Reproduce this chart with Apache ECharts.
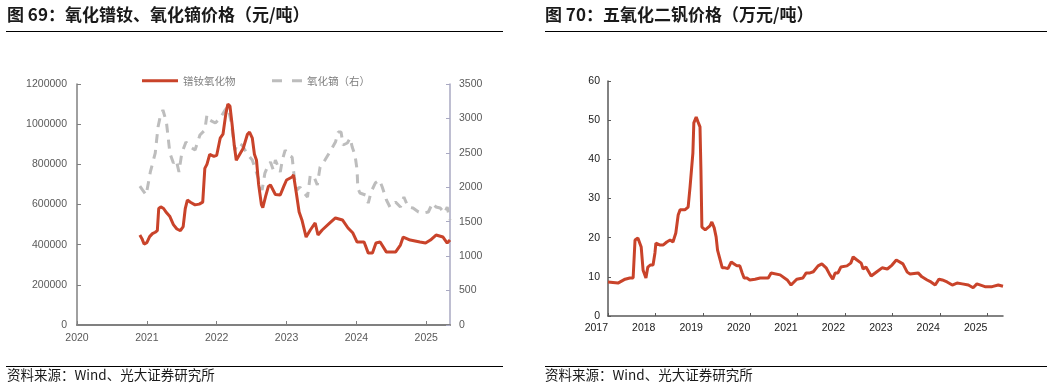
<!DOCTYPE html>
<html><head><meta charset="utf-8">
<script src="https://cdn.jsdelivr.net/npm/echarts@6/dist/echarts.min.js"></script>
<style>html,body{margin:0;padding:0;background:#fff;}#c{width:1055px;height:387px;}</style>
</head><body><div id="c"></div>
<script>
// ---- text ----
const titleLeft = '图 69：氧化镨钕、氧化镝价格（元/吨）';
const titleRight = '图 70：五氧化二钒价格（万元/吨）';
const sourceText = '资料来源：Wind、光大证券研究所';
const nameNd = '镨钕氧化物';
const nameDy = '氧化镝（右）';
const nameV = '五氧化二钒';

// ---- tick labels ----
const yearsLeft = [2020, 2021, 2022, 2023, 2024, 2025];
const yearsRight = [2017, 2018, 2019, 2020, 2021, 2022, 2023, 2024, 2025];

// ---- 镨钕氧化物 (元/吨), dates as decimal years ----
const ndDates = [2020.90,2020.93,2020.96,2021.00,2021.04,2021.08,2021.12,2021.15,2021.17,2021.20,2021.24,2021.28,2021.33,2021.38,2021.43,2021.48,2021.52,2021.55,2021.58,2021.63,2021.69,2021.75,2021.80,2021.83,2021.86,2021.90,2021.96,2022.00,2022.05,2022.09,2022.13,2022.16,2022.19,2022.22,2022.25,2022.28,2022.33,2022.38,2022.44,2022.47,2022.51,2022.54,2022.57,2022.60,2022.64,2022.66,2022.70,2022.74,2022.77,2022.84,2022.91,2022.96,2023.00,2023.08,2023.10,2023.14,2023.18,2023.22,2023.28,2023.34,2023.41,2023.45,2023.51,2023.62,2023.70,2023.80,2023.88,2023.95,2024.01,2024.11,2024.17,2024.23,2024.28,2024.34,2024.43,2024.56,2024.63,2024.67,2024.77,2024.91,2024.99,2025.06,2025.14,2025.24,2025.30,2025.34];
const ndValues = [448000,430000,403000,410000,440000,455000,462000,470000,580000,588000,580000,560000,540000,500000,478000,470000,490000,580000,622000,610000,598000,602000,612000,780000,800000,850000,840000,845000,930000,950000,1050000,1100000,1090000,1000000,900000,820000,850000,880000,950000,960000,930000,850000,820000,700000,600000,585000,640000,690000,697000,650000,647000,690000,722000,737000,747000,657000,563000,523000,438000,473000,508000,448000,473000,508000,533000,523000,483000,458000,413000,413000,358000,358000,408000,413000,363000,363000,398000,438000,423000,413000,408000,423000,448000,438000,408000,423000];

// ---- 氧化镝 (right axis) ----
const dyDates = [2020.90,2020.94,2020.99,2021.05,2021.12,2021.16,2021.19,2021.23,2021.28,2021.33,2021.38,2021.42,2021.46,2021.50,2021.56,2021.62,2021.69,2021.76,2021.83,2021.86,2021.90,2021.98,2022.05,2022.12,2022.16,2022.21,2022.26,2022.31,2022.36,2022.45,2022.51,2022.59,2022.65,2022.69,2022.74,2022.77,2022.81,2022.84,2022.91,2022.94,2022.98,2023.02,2023.08,2023.11,2023.15,2023.19,2023.24,2023.30,2023.34,2023.40,2023.44,2023.48,2023.55,2023.62,2023.70,2023.74,2023.78,2023.81,2023.87,2023.91,2023.94,2023.98,2024.01,2024.02,2024.05,2024.13,2024.17,2024.21,2024.27,2024.33,2024.37,2024.43,2024.48,2024.56,2024.63,2024.68,2024.74,2024.81,2024.89,2024.96,2025.03,2025.09,2025.14,2025.20,2025.26,2025.30,2025.34];
const dyValues = [2018,1960,1888,2222,2497,2875,3020,3122,2948,2497,2352,2396,2222,2497,2657,2585,2541,2759,2831,3049,2977,2933,3006,3122,3166,2933,2541,2643,2614,2468,2396,2149,1960,2207,2323,2367,2251,2396,2222,2396,2541,2468,2439,2149,1960,2004,1931,1859,2178,2134,2033,2294,2396,2512,2657,2802,2802,2614,2643,2715,2585,2468,2251,1989,1917,1888,1771,1931,2062,2105,2004,1815,1713,1786,1713,1859,1713,1699,1641,1626,1641,1771,1713,1699,1626,1713,1525];

// ---- 五氧化二钒 (万元/吨) ----
const vDates = [2017.00,2017.21,2017.25,2017.36,2017.46,2017.53,2017.57,2017.63,2017.70,2017.74,2017.80,2017.84,2017.89,2017.95,2017.99,2018.01,2018.10,2018.16,2018.24,2018.31,2018.37,2018.43,2018.48,2018.52,2018.62,2018.69,2018.73,2018.79,2018.81,2018.86,2018.90,2018.94,2018.96,2018.98,2019.05,2019.15,2019.19,2019.24,2019.28,2019.31,2019.34,2019.41,2019.47,2019.53,2019.60,2019.66,2019.72,2019.78,2019.83,2019.87,2019.93,2019.99,2020.10,2020.21,2020.38,2020.44,2020.63,2020.78,2020.86,2020.98,2021.11,2021.18,2021.26,2021.33,2021.43,2021.51,2021.60,2021.68,2021.74,2021.79,2021.85,2021.91,2022.04,2022.12,2022.17,2022.25,2022.34,2022.38,2022.44,2022.55,2022.67,2022.78,2022.89,2022.99,2023.08,2023.12,2023.22,2023.31,2023.37,2023.54,2023.62,2023.73,2023.81,2023.90,2023.98,2024.05,2024.15,2024.26,2024.36,2024.47,2024.60,2024.70,2024.78,2024.95,2025.10,2025.23,2025.33];
const vValues = [8.7,8.4,8.3,9.4,9.7,9.7,19.4,19.9,17.6,11.7,9.7,12.5,13.0,13.0,16.1,18.6,18.1,18.1,18.9,19.4,18.9,21.2,25.8,27.1,27.1,27.8,32.9,41.6,49.3,50.8,49.5,48.3,37.3,22.7,22.0,23.0,24.0,22.5,20.2,16.8,16.3,12.3,12.3,12.1,13.8,13.3,12.8,12.8,11.0,9.7,9.7,9.2,9.4,9.7,9.7,11.0,10.5,9.2,7.9,9.4,9.7,11.0,11.0,11.3,12.8,13.3,12.3,10.5,9.4,11.0,11.0,12.5,12.8,13.5,15.1,14.3,13.5,12.0,12.5,10.2,11.3,12.3,12.0,13.0,14.3,14.0,13.3,11.2,10.7,11.0,10.0,9.2,8.7,7.9,9.4,9.2,8.7,7.9,8.4,8.2,7.9,7.2,8.2,7.5,7.5,7.9,7.6];

const zip = (a, b) => a.map((x, i) => [x, b[i]]);
const RED = '#C9432A';
const GREY = '#BDBDBD';
const numFont = 'Liberation Sans, Arial, sans-serif';
const cjkFont = 'Noto Sans CJK SC, sans-serif';

const chart = echarts.init(document.getElementById('c'), null, {renderer: 'canvas'});
const yearFmt = v => String(Math.round(v));
const plainFmt = v => String(v);

chart.setOption({
  animation: false,
  backgroundColor: '#fff',
  grid: [
    {left: 77, top: 84, width: 373, height: 241},
    {left: 608, top: 81, width: 395, height: 235}
  ],
  legend: [
    {data: [{name: nameNd, icon: 'path://M0,0h36v3h-36z'}], left: 142, top: 75.5, itemWidth: 36, itemHeight: 3, padding: 0,
     textStyle: {color: '#7f7f7f', fontSize: 10.5, fontFamily: cjkFont}},
    {data: [{name: nameDy, icon: 'path://M0,0h10v3h-10zM20,0h10v3h-10z'}], left: 272, top: 75.5, itemWidth: 30, itemHeight: 3, padding: 0,
     textStyle: {color: '#7f7f7f', fontSize: 10.5, fontFamily: cjkFont}}
  ],
  xAxis: [
    {type: 'value', gridIndex: 0, min: 2020, max: 2025.34, interval: 1,
     axisLine: {show: true, lineStyle: {color: '#808080', width: 2}},
     axisTick: {show: true, inside: true, length: 4, customValues: yearsLeft, lineStyle: {color: '#808080'}},
     axisLabel: {customValues: yearsLeft, formatter: yearFmt, color: '#595959', fontSize: 10.5, fontFamily: numFont, margin: 8},
     splitLine: {show: false}},
    {type: 'value', gridIndex: 1, min: 2017, max: 2025.33, interval: 1,
     axisLine: {show: true, lineStyle: {color: '#595959', width: 1.5}},
     axisTick: {show: true, inside: true, length: 3, customValues: yearsRight, lineStyle: {color: '#595959'}},
     axisLabel: {customValues: yearsRight, formatter: yearFmt, color: '#1a1a1a', fontSize: 10.5, fontFamily: numFont, margin: 7, align: 'right'},
     splitLine: {show: false}}
  ],
  yAxis: [
    {type: 'value', gridIndex: 0, position: 'left', min: 0, max: 1200000, interval: 200000,
     axisLine: {show: true, lineStyle: {color: '#808080', width: 1.5}},
     axisTick: {show: true, inside: true, length: 4, lineStyle: {color: '#808080'}},
     axisLabel: {formatter: plainFmt, color: '#595959', fontSize: 10.5, fontFamily: numFont, margin: 10},
     splitLine: {show: false}},
    {type: 'value', gridIndex: 0, position: 'right', min: 0, max: 3500, interval: 500,
     axisLine: {show: true, lineStyle: {color: '#a9a9c2', width: 1.5}},
     axisTick: {show: true, inside: true, length: 4, lineStyle: {color: '#a9a9c2'}},
     axisLabel: {formatter: plainFmt, color: '#595959', fontSize: 10.5, fontFamily: numFont, margin: 9},
     splitLine: {show: false}},
    {type: 'value', gridIndex: 1, min: 0, max: 60, interval: 10,
     axisLine: {show: true, lineStyle: {color: '#595959', width: 1.5}},
     axisTick: {show: true, inside: true, length: 3, lineStyle: {color: '#595959'}},
     axisLabel: {formatter: plainFmt, color: '#1a1a1a', fontSize: 10.5, fontFamily: numFont, margin: 8},
     splitLine: {show: false}}
  ],
  series: [
    {name: nameDy, type: 'line', xAxisIndex: 0, yAxisIndex: 1, data: zip(dyDates, dyValues),
     symbol: 'none', showSymbol: false, z: 2,
     lineStyle: {color: GREY, width: 3, type: [9, 7]}, itemStyle: {color: GREY}},
    {name: nameNd, type: 'line', xAxisIndex: 0, yAxisIndex: 0, data: zip(ndDates, ndValues),
     symbol: 'none', showSymbol: false, z: 3,
     lineStyle: {color: RED, width: 3}, itemStyle: {color: RED}},
    {name: nameV, type: 'line', xAxisIndex: 1, yAxisIndex: 2, data: zip(vDates, vValues),
     symbol: 'none', showSymbol: false,
     lineStyle: {color: RED, width: 3}, itemStyle: {color: RED}}
  ],
  graphic: [
    {type: 'text', left: 7, top: 6, style: {text: titleLeft, fill: '#1a1a1a', font: 'bold 17px ' + cjkFont}},
    {type: 'text', left: 545, top: 6, style: {text: titleRight, fill: '#1a1a1a', font: 'bold 17px ' + cjkFont}},
    {type: 'line', shape: {x1: 6, y1: 31.5, x2: 503, y2: 31.5}, style: {stroke: '#000', lineWidth: 1}},
    {type: 'line', shape: {x1: 545, y1: 31.5, x2: 1047, y2: 31.5}, style: {stroke: '#000', lineWidth: 1}},
    {type: 'line', shape: {x1: 6, y1: 366.5, x2: 503, y2: 366.5}, style: {stroke: '#000', lineWidth: 1}},
    {type: 'line', shape: {x1: 545, y1: 366.5, x2: 1047, y2: 366.5}, style: {stroke: '#000', lineWidth: 1}},
    {type: 'text', left: 7, top: 368, style: {text: sourceText, fill: '#1a1a1a', font: '13.5px ' + cjkFont}},
    {type: 'text', left: 545, top: 368, style: {text: sourceText, fill: '#1a1a1a', font: '13.5px ' + cjkFont}}
  ]
});
</script>
</body></html>
